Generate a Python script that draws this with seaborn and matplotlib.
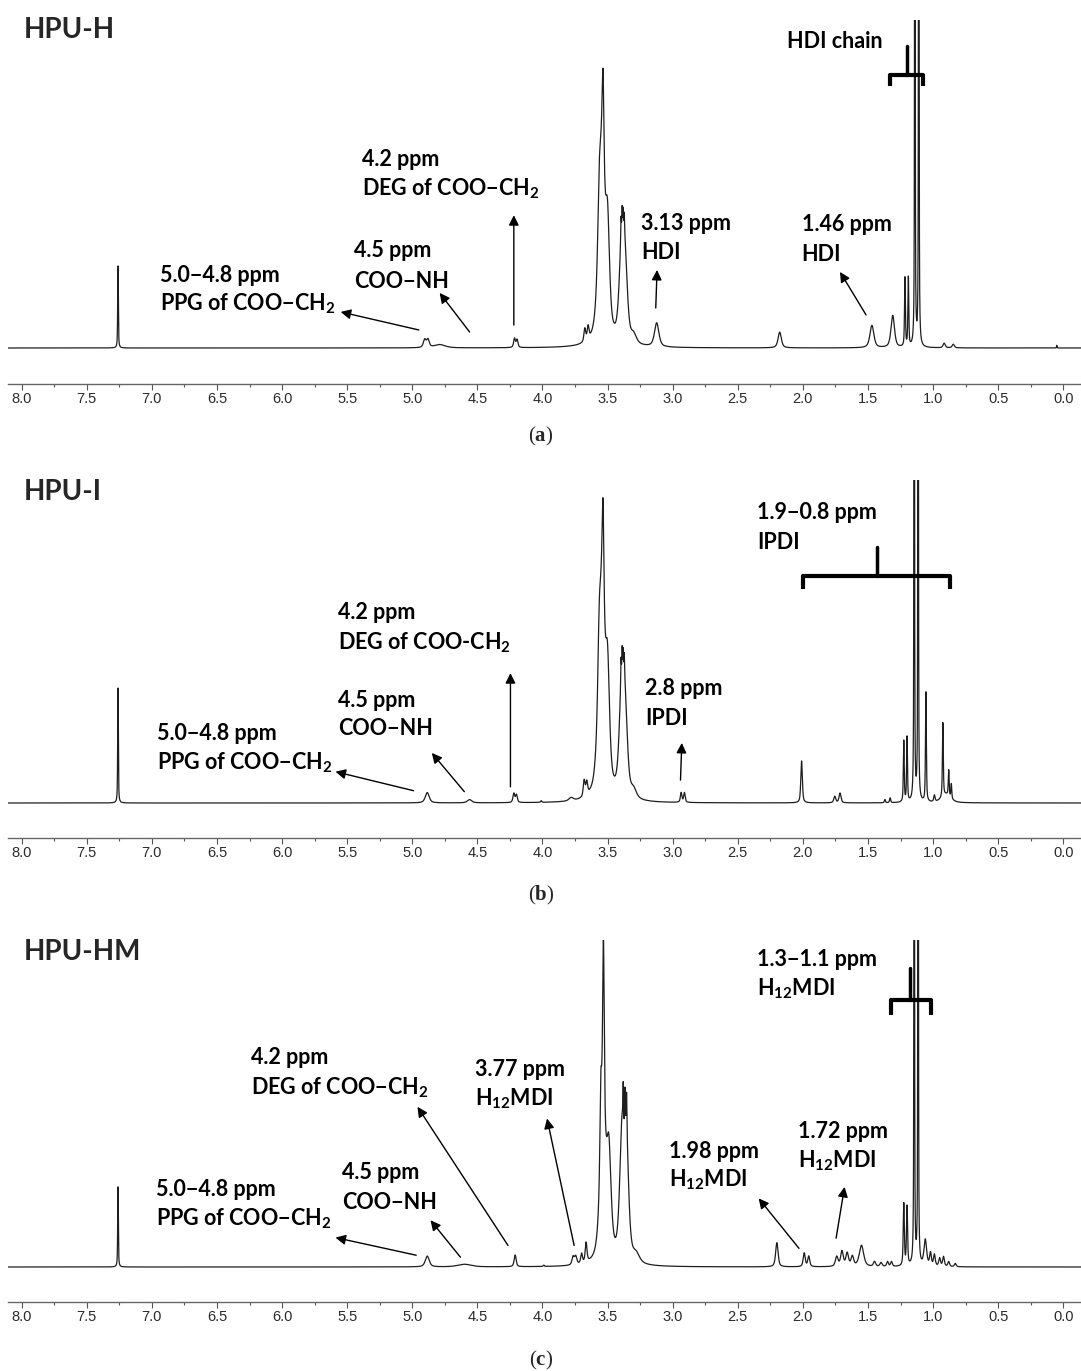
import numpy as np
import matplotlib
matplotlib.use("Agg")
import matplotlib.pyplot as plt
from matplotlib.ticker import MultipleLocator, FormatStrFormatter
import seaborn as sns

sns.set_theme(style="white")
plt.rcParams['font.family'] = ['Lato', 'DejaVu Sans']
plt.rcParams['mathtext.fontset'] = 'custom'
plt.rcParams['mathtext.rm'] = 'Lato:bold'
plt.rcParams['mathtext.bf'] = 'Liberation Serif:bold'
plt.rcParams['axes.unicode_minus'] = False

# ==================== 峰表 (ppm, 高度 %, 半峰宽 ppm) ====================
# HPU-H
H_PPM = [7.26, 4.905, 4.88, 4.79, 4.215, 4.195, 3.675, 3.650, 3.565, 3.545, 3.535, 3.50,
         3.395, 3.365, 3.397, 3.388, 3.380, 3.372, 3.30, 3.123, 2.178, 1.47, 1.31, 1.216, 1.19,
         1.14, 1.11, 0.915, 0.845, 0.05]
H_HEIGHT = [25, 2.4, 2.4, 1.0, 2.8, 2.4, 4.0, 4.0, 15, 55, 29, 30,
            25, 24, 7, 8, 8, 7, 2.5, 7.3, 4.8, 6.8, 9.8, 21, 21,
            250, 250, 1.4, 1.1, 0.8]
H_WIDTH = [0.003, 0.012, 0.012, 0.05, 0.008, 0.008, 0.008, 0.008, 0.012, 0.028, 0.008, 0.018,
           0.02, 0.02, 0.003, 0.003, 0.003, 0.003, 0.025, 0.02, 0.015, 0.018, 0.016, 0.004, 0.004,
           0.0025, 0.0025, 0.01, 0.01, 0.002]

# HPU-I
I_PPM = [7.26, 4.885, 4.56, 4.22, 4.20, 4.01, 3.78, 3.68, 3.66, 3.565, 3.545, 3.535, 3.50,
         3.395, 3.365, 3.397, 3.388, 3.380, 3.372, 3.30, 2.935, 2.91, 2.01, 1.755, 1.715, 1.37, 1.33,
         1.225, 1.20, 1.145, 1.115, 1.055, 0.99, 0.925, 0.88, 0.86, 0.9]
I_HEIGHT = [35.6, 3.2, 1.0, 2.8, 2.4, 0.5, 1.0, 5.0, 4.0, 17, 60, 33, 33,
            28, 27, 8, 9, 9, 8, 2.5, 3.0, 3.0, 13, 2.0, 3.0, 1.0, 1.5,
            19, 20, 250, 250, 34, 2.0, 23, 8, 4.5, 2.5]
I_WIDTH = [0.003, 0.018, 0.02, 0.008, 0.008, 0.005, 0.02, 0.008, 0.008, 0.012, 0.028, 0.008, 0.018,
           0.02, 0.02, 0.003, 0.003, 0.003, 0.003, 0.025, 0.007, 0.007, 0.007, 0.009, 0.009, 0.005, 0.005,
           0.004, 0.004, 0.0025, 0.0025, 0.004, 0.006, 0.004, 0.004, 0.004, 0.04]

# HPU-HM
HM_PPM = [7.26, 4.885, 4.6, 4.21, 3.99, 3.765, 3.745, 3.70, 3.665, 3.552, 3.535, 3.532, 3.49,
          3.39, 3.355, 3.38, 3.367, 3.354, 3.28, 2.20, 1.99, 1.955, 1.74, 1.70, 1.66, 1.62, 1.55,
          1.45, 1.40, 1.35, 1.32, 1.225, 1.20, 1.145, 1.115, 1.06, 1.02, 0.99, 0.95, 0.92,
          0.88, 0.83]
HM_HEIGHT = [24.5, 3.3, 0.8, 3.6, 0.4, 2.5, 2.5, 3.0, 6.0, 25, 40, 55, 30,
             37, 34, 12, 12, 11, 2.5, 7.4, 4.2, 3.2, 3.0, 4.6, 4.0, 3.0, 6.5,
             1.5, 1.2, 1.5, 1.5, 19, 18, 250, 250, 8, 4, 3.5, 2.5, 3.0,
             1.5, 1.0]
HM_WIDTH = [0.003, 0.018, 0.06, 0.009, 0.005, 0.01, 0.01, 0.008, 0.008, 0.008, 0.026, 0.007, 0.02,
            0.02, 0.02, 0.003, 0.003, 0.003, 0.03, 0.011, 0.009, 0.009, 0.012, 0.012, 0.012, 0.012, 0.02,
            0.01, 0.01, 0.008, 0.008, 0.005, 0.005, 0.0025, 0.0025, 0.012, 0.008, 0.008, 0.008, 0.008,
            0.008, 0.008]

SAMPLES = ["HPU-H", "HPU-I", "HPU-HM"]
CAPTIONS = ["a", "b", "c"]
TICKS = np.arange(0, 8.01, 0.5)

# ==================== 画布布局 (像素) ====================
W, H = 1081, 1371
fig = plt.figure(figsize=(W / 100, H / 100), dpi=100)
ppm = np.arange(8.11, -0.15, -0.0004)


def spectrum(x, centers, heights, widths, eta=0.6):
    # pseudo-Voigt 叠加
    y = np.zeros_like(x)
    for c, h, w in zip(centers, heights, widths):
        d2 = (x - c) ** 2
        y += h * (eta * w ** 2 / (d2 + w ** 2) + (1 - eta) * np.exp(-np.log(2) * d2 / w ** 2))
    return y


def make_panel(top, base, bottom, peaks):
    ax = fig.add_axes([8 / W, 1 - bottom / H, (W - 8) / W, (bottom - top) / H])
    y = spectrum(ppm, *peaks)
    sns.lineplot(x=ppm, y=y, ax=ax, color="#1e1e1e", linewidth=0.9, estimator=None, sort=False)
    ax.set_xlim(8.105, -0.136)
    ax.set_ylim(-(bottom - base) / (base - top) * 100, 100)
    for s in ["top", "left", "right"]:
        ax.spines[s].set_visible(False)
    ax.spines["bottom"].set_color("#666666")
    ax.spines["bottom"].set_linewidth(1.0)
    ax.set_yticks([])
    ax.set_xticks(TICKS)
    ax.xaxis.set_minor_locator(MultipleLocator(0.25))
    ax.xaxis.set_major_formatter(FormatStrFormatter("%.1f"))
    ax.tick_params(axis="x", which="major", direction="out", length=4, width=0.8, color="#555555",
                   labelsize=10.5, labelcolor="#2a2a2a", pad=2, bottom=True)
    ax.tick_params(axis="x", which="minor", direction="out", length=2.5, width=0.8, color="#555555",
                   bottom=True)
    for lab in ax.get_xticklabels():
        lab.set_fontfamily("Liberation Sans")
    ax.set_xlabel("")
    ax.set_ylabel("")
    ax.patch.set_alpha(0)
    return ax


def label(ax, x, y1, y2, line1, line2):
    kw = dict(fontsize=15.5, fontweight="bold", ha="left", va="baseline", color="black")
    ax.text(x, y1, line1, **kw)
    if line2:
        ax.text(x, y2, line2, **kw)


def arrow(ax, tail, head):
    ax.annotate("", xy=head, xytext=tail,
                arrowprops=dict(arrowstyle="-|>", color="black", lw=1.0, mutation_scale=15,
                                shrinkA=0, shrinkB=0))


def bracket(ax, x0, x1, xs, yh, yhook, ytop):
    ax.plot([x0, x0, x1, x1], [yhook, yh, yh, yhook], color="black", lw=3, clip_on=False,
            solid_joinstyle="round", solid_capstyle="butt")
    ax.plot([xs, xs], [yh, ytop], color="black", lw=2.5, clip_on=False)


# ---------------- (a) HPU-H ----------------
ax_a = make_panel(20, 348, 384, (H_PPM, H_HEIGHT, H_WIDTH))
label(ax_a, 5.39, 55.6, 46.5, "4.2 ppm", "DEG of COO−CH$_2$")
arrow(ax_a, (4.22, 7.0), (4.22, 40.5))
label(ax_a, 5.45, 27.6, 18.4, "4.5 ppm", "COO−NH")
arrow(ax_a, (4.56, 4.9), (4.79, 16.8))
label(ax_a, 6.94, 20.0, 11.4, "5.0−4.8 ppm", "PPG of COO−CH$_2$")
arrow(ax_a, (4.95, 5.5), (5.55, 11.0))
label(ax_a, 3.24, 36.1, 27.0, "3.13 ppm", "HDI")
arrow(ax_a, (3.13, 12.2), (3.12, 23.8))
label(ax_a, 2.01, 35.8, 26.4, "1.46 ppm", "HDI")
arrow(ax_a, (1.515, 10.1), (1.715, 23.2))
label(ax_a, 2.12, 91.6, None, "HDI chain", None)
bracket(ax_a, 1.331, 1.078, 1.203, 83.2, 79.9, 92.1)

# ---------------- (b) HPU-I ----------------
ax_b = make_panel(480, 803, 838, (I_PPM, I_HEIGHT, I_WIDTH))
label(ax_b, 2.35, 87.9, 78.6, "1.9−0.8 ppm", "IPDI")
bracket(ax_b, 2.0, 0.870, 1.433, 70.3, 66.3, 79.4)
label(ax_b, 5.57, 56.9, 47.6, "4.2 ppm", "DEG of COO-CH$_2$")
arrow(ax_b, (4.246, 5.0), (4.246, 40.2))
label(ax_b, 5.57, 29.6, 20.9, "4.5 ppm", "COO−NH")
arrow(ax_b, (4.60, 3.5), (4.85, 15.5))
label(ax_b, 6.96, 19.4, 10.5, "5.0−4.8 ppm", "PPG of COO−CH$_2$")
arrow(ax_b, (4.99, 3.8), (5.59, 9.7))
label(ax_b, 3.21, 33.3, 24.0, "2.8 ppm", "IPDI")
arrow(ax_b, (2.94, 7.1), (2.93, 18.6))

# ---------------- (c) HPU-HM ----------------
ax_c = make_panel(940, 1267, 1302, (HM_PPM, HM_HEIGHT, HM_WIDTH))
label(ax_c, 2.35, 92.2, 83.0, "1.3−1.1 ppm", "H$_{12}$MDI")
bracket(ax_c, 1.323, 1.016, 1.177, 81.8, 77.0, 91.3)
label(ax_c, 6.24, 62.0, 52.8, "4.2 ppm", "DEG of COO−CH$_2$")
arrow(ax_c, (4.265, 6.6), (4.96, 49.0))
label(ax_c, 4.52, 58.5, 49.3, "3.77 ppm", "H$_{12}$MDI")
arrow(ax_c, (3.757, 6.6), (3.965, 45.4))
label(ax_c, 3.03, 33.4, 24.8, "1.98 ppm", "H$_{12}$MDI")
arrow(ax_c, (2.03, 5.7), (2.34, 21.0))
label(ax_c, 2.04, 39.5, 30.4, "1.72 ppm", "H$_{12}$MDI")
arrow(ax_c, (1.745, 8.8), (1.68, 24.5))
label(ax_c, 5.54, 26.8, 17.6, "4.5 ppm", "COO−NH")
arrow(ax_c, (4.63, 3.0), (4.86, 14.3))
label(ax_c, 6.97, 21.8, 12.6, "5.0−4.8 ppm", "PPG of COO−CH$_2$")
arrow(ax_c, (4.97, 3.6), (5.59, 9.0))

# ---------------- 标题与小标 ----------------
for name, cap, title_y, cap_y in zip(SAMPLES, CAPTIONS, [38, 500, 960], [436, 895, 1360]):
    fig.text(24 / W, 1 - title_y / H, name, fontsize=20, fontweight="bold", ha="left", va="baseline")
    fig.text(541 / W, 1 - cap_y / H, "($\\mathbf{" + cap + "}$)", fontsize=15, ha="center", va="center",
             family=["Liberation Serif", "DejaVu Serif"])

fig.savefig("out.png", dpi=100)
